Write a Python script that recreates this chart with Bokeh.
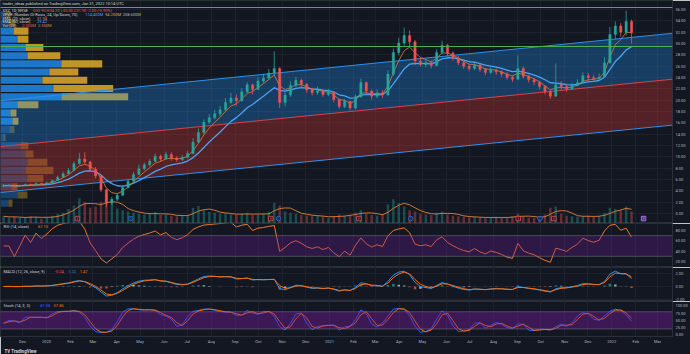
import numpy as np
import pandas as pd
from bokeh.plotting import figure
from bokeh.layouts import column
from bokeh.models import (Range1d, FixedTicker, PrintfTickFormatter, Label, Span,
                          BoxAnnotation, Title, ColumnDataSource)
from bokeh.core.properties import value
from bokeh.embed import file_html
from bokeh.resources import INLINE

# ---------------- data (weekly bars) ----------------
week_start = "2019-11-04"
first_open = 4.8
close = [4.9, 5.0, 4.8, 4.9, 5.1, 5.0, 5.3, 5.2, 5.4, 5.8,
         6.4, 7.0, 7.6, 8.8, 9.6, 9.1, 7.8, 6.6, 4.2, 1.8,
         2.5, 3.2, 4.6, 5.7, 6.9, 7.9, 8.6, 9.2, 10.1, 9.6,
         10.4, 9.8, 9.5, 9.9, 10.6, 12.6, 14.3, 16.1, 16.9, 17.6,
         18.3, 19.6, 20.4, 19.9, 21.5, 22.7, 21.9, 23.4, 23.9, 24.8,
         25.6, 19.6, 20.9, 22.6, 23.5, 22.8, 21.8, 21.3, 21.7, 21.0,
         21.4, 20.1, 18.9, 19.8, 18.6, 20.6, 23.1, 21.6, 20.7, 21.3,
         20.9, 24.6, 28.4, 30.1, 31.4, 30.3, 26.9, 26.3, 26.6, 26.1,
         28.4, 29.7, 28.3, 27.4, 26.6, 26.0, 25.6, 26.2, 25.4, 24.9,
         25.3, 25.0, 24.6, 24.0, 23.7, 25.6, 24.2, 23.6, 23.2, 22.4,
         21.5, 20.7, 22.7, 22.4, 22.0, 22.6, 23.1, 24.3, 24.0, 23.8,
         24.1, 26.6, 31.6, 33.1, 32.0, 33.9, 31.9]
high = [5.2, 5.2, 5.1, 5.1, 5.3, 5.3, 5.5, 5.4, 5.6, 6.0,
        6.7, 7.4, 8.0, 9.2, 10.7, 10.8, 9.3, 8.2, 6.6, 4.3,
        2.9, 3.6, 4.9, 6.1, 7.3, 8.6, 9.0, 9.6, 10.6, 10.4,
        10.9, 10.8, 10.1, 10.3, 11.0, 13.3, 15.0, 16.6, 17.6, 18.3,
        19.0, 20.4, 21.3, 21.0, 22.1, 23.2, 22.9, 24.0, 24.6, 25.5,
        28.6, 25.8, 21.6, 23.3, 24.1, 23.8, 23.0, 22.2, 22.4, 21.9,
        22.0, 21.6, 20.3, 20.2, 19.9, 21.0, 23.8, 23.3, 21.9, 21.9,
        21.8, 25.3, 29.1, 31.0, 32.8, 32.3, 30.6, 27.5, 27.2, 27.0,
        29.0, 30.5, 29.9, 28.6, 27.8, 26.9, 26.4, 26.7, 26.5, 25.7,
        25.8, 25.6, 25.3, 24.9, 24.4, 27.9, 25.9, 24.5, 23.9, 23.4,
        22.6, 21.8, 26.5, 23.4, 22.9, 23.1, 23.7, 24.9, 24.8, 24.5,
        24.7, 27.6, 32.9, 33.9, 33.6, 35.8, 34.2]
low = [4.7, 4.8, 4.6, 4.7, 4.8, 4.9, 5.0, 5.0, 5.1, 5.3,
       5.8, 6.3, 6.9, 7.5, 8.6, 8.7, 7.4, 6.2, 3.8, 1.1,
       1.5, 2.2, 3.1, 4.4, 5.5, 6.8, 7.6, 8.3, 9.0, 9.2,
       9.5, 9.3, 9.1, 9.2, 9.7, 10.5, 12.4, 14.0, 15.8, 16.6,
       17.2, 18.1, 19.3, 19.0, 19.7, 21.2, 21.0, 21.8, 23.0, 23.6,
       24.4, 18.6, 18.9, 20.6, 22.3, 22.2, 21.3, 20.8, 20.9, 20.6,
       20.7, 19.6, 18.5, 18.6, 18.2, 18.4, 20.4, 21.0, 20.1, 20.3,
       20.4, 20.8, 24.3, 27.9, 29.6, 29.4, 26.2, 25.9, 25.8, 25.6,
       26.0, 28.1, 27.8, 27.0, 26.2, 25.5, 25.1, 25.3, 25.0, 24.4,
       24.6, 24.5, 24.1, 23.6, 23.2, 23.6, 23.8, 23.1, 22.6, 21.9,
       21.0, 20.2, 20.6, 21.8, 21.5, 21.8, 22.4, 22.9, 23.4, 23.3,
       23.4, 23.9, 26.4, 30.8, 31.2, 31.4, 30.0]
volume = [1.2, 1.0, 1.1, 0.9, 1.0, 1.2, 1.1, 0.8, 1.0, 1.3,
          1.6, 1.8, 2.4, 3.0, 4.2, 3.5, 2.6, 2.8, 3.6, 4.8,
          3.2, 2.5, 2.2, 2.0, 1.8, 1.6, 1.5, 1.6, 1.9, 1.4,
          1.5, 1.3, 1.2, 1.3, 1.4, 2.6, 2.9, 2.2, 1.9, 1.8,
          1.6, 1.7, 1.5, 1.4, 1.6, 1.8, 1.4, 1.5, 1.6, 1.9,
          3.4, 3.0, 2.0, 1.8, 1.6, 1.4, 1.3, 1.2, 1.3, 1.1,
          0.9, 1.2, 1.5, 1.3, 1.4, 1.8, 2.2, 1.6, 1.4, 1.3,
          1.5, 3.2, 4.0, 3.4, 2.8, 2.2, 2.0, 1.6, 1.5, 1.4,
          1.8, 2.0, 1.5, 1.3, 1.2, 1.1, 1.0, 1.1, 1.0, 0.9,
          1.0, 1.1, 1.0, 0.9, 1.2, 1.6, 1.1, 1.0, 0.9, 1.1,
          1.5, 2.6, 2.8, 1.6, 1.3, 1.2, 1.1, 1.2, 1.3, 1.1,
          1.2, 1.8, 2.6, 2.4, 2.2, 2.8, 2.0]

# volume profile rows, bottom -> top (24 rows), millions
vp_up = [1.6, 3.4, 2.2, 5.4, 5.0, 5.4, 5.0, 4.0, 0.6, 1.8, 2.4, 2.0,
         3.4, 12.2, 10.6, 8.4, 9.8, 12.2, 5.4, 5.0, 3.4, 2.6, 1.6, 1.0]
vp_down = [0.8, 2.0, 1.2, 3.2, 5.6, 4.0, 1.6, 1.6, 0.4, 1.0, 1.2, 1.2,
           4.2, 13.4, 12.0, 9.0, 5.8, 8.2, 6.6, 3.6, 2.2, 3.0, 1.4, 1.0]

# regression channel end points
chan_dates = ["2019-11-02 13:00", "2022-03-20 10:00"]
chan_upper = [19.9, 31.8]
chan_mid = [11.8, 23.7]
chan_lower = [3.7, 15.6]

hline_levels = [36.35, 29.47]

earn_dates = ["2020-02-10", "2020-10-17", "2021-02-08", "2021-09-02", "2021-10-18"]
div_dates = ["2020-04-19", "2020-10-27", "2021-04-16", "2021-09-30"]
next_earn_dates = ["2022-02-11"]

tick_dates = pd.date_range("2019-12-01", periods=28, freq="MS")
tick_labels = ["Dec", "2020", "Feb", "Mar", "Apr", "May", "Jun", "Jul", "Aug", "Sep",
               "Oct", "Nov", "Dec", "2021", "Feb", "Mar", "Apr", "May", "Jun", "Jul",
               "Aug", "Sep", "Oct", "Nov", "Dec", "2022", "Feb", "Mar"]
price_ticks = [0, 2, 4, 6, 8, 10, 12, 14, 16, 18, 20, 22, 24, 26, 28, 30, 32, 34, 36]
rsi_ticks = [20, 40, 60, 80]
stoch_ticks = [0, 25, 50, 75, 100]

x_start, x_end = "2019-11-02 13:00", "2022-03-20 10:00"

# indicator settings (weekly equivalents)
EMA_FAST, EMA_SLOW = 4, 10
RSI_N = 6
MACD_F, MACD_S, MACD_SIG = 3, 6, 2
ST_N, ST_K, ST_D = 3, 2, 2
VOL_MA = 4

# ---------------- styles ----------------
BG = "#131722"
GRID = "#1d212c"
SEP = "#2a2e39"
TXT = "#b2b5be"
UP, DN = "#26a69a", "#ef5350"
FONT = "Roboto"
FS = "4px"
CW = 2.1  # approx char width of legend font (px)
DAY = 86400000.0

# ---------------- derived ----------------
dates = pd.date_range(week_start, periods=len(close), freq="7D")
xc = dates + pd.Timedelta(hours=60)
c = np.array(close, float)
o = np.concatenate([[first_open], c[:-1]])
h = np.maximum(np.array(high, float), np.maximum(o, c))
l = np.minimum(np.array(low, float), np.minimum(o, c))
vol = np.array(volume, float)
cs = pd.Series(c)


def ema(s, n):
    return pd.Series(s).ewm(span=n, adjust=False).mean().values


ema_f = ema(c, EMA_FAST)
ema_s = ema(c, EMA_SLOW)
d = np.diff(c, prepend=c[0])
au = pd.Series(np.clip(d, 0, None)).ewm(alpha=1 / RSI_N, adjust=False).mean()
ad = pd.Series(np.clip(-d, 0, None)).ewm(alpha=1 / RSI_N, adjust=False).mean()
rsi = (100 - 100 / (1 + au / ad.replace(0, np.nan))).fillna(50).values
macd = ema(c, MACD_F) - ema(c, MACD_S)
sig = ema(macd, MACD_SIG)
hist = macd - sig
ll = pd.Series(l).rolling(ST_N, min_periods=1).min()
hh = pd.Series(h).rolling(ST_N, min_periods=1).max()
kraw = 100 * (cs - ll) / (hh - ll)
stk = kraw.rolling(ST_K, min_periods=1).mean()
std = stk.rolling(ST_D, min_periods=1).mean()
volma = pd.Series(vol).rolling(VOL_MA, min_periods=1).mean().values

xr = Range1d(pd.Timestamp(x_start), pd.Timestamp(x_end))
tick_ms = [float(t.value // 10**6) for t in tick_dates]


def make_fig(height, yr, xaxis=False):
    p = figure(width=690, height=height, x_axis_type="datetime", x_range=xr, y_range=yr,
               output_backend="svg", toolbar_location=None, y_axis_location="right",
               x_axis_location="below" if xaxis else None,
               min_border_left=0, min_border_right=18, min_border_top=0, min_border_bottom=0,
               background_fill_color=BG, border_fill_color=BG,
               outline_line_color=SEP, outline_line_width=1)
    p.xgrid.ticker = FixedTicker(ticks=tick_ms)
    p.grid.grid_line_color = GRID
    p.grid.grid_line_width = 1
    ax = p.yaxis[0]
    ax.major_label_text_font = FONT
    ax.major_label_text_font_size = FS
    ax.major_label_text_color = TXT
    ax.major_tick_out = 0
    ax.major_tick_in = 0
    ax.minor_tick_out = 0
    ax.minor_tick_in = 0
    ax.major_label_standoff = 3
    ax.axis_line_color = None
    ax.formatter = PrintfTickFormatter(format="%.2f")
    return p


def legend_line(p, y, parts, x0=2):
    x = x0
    for text, color in parts:
        p.add_layout(Label(x=x, y=y, x_units="screen", y_units="data", text=text,
                           text_color=color, text_font_size=FS, text_font=FONT,
                           text_baseline="middle"))
        x += len(text) * CW + 3


def tag(p, y, text, fill):
    p.add_layout(Label(x=673, y=y, x_units="screen", y_units="data", text=text,
                       text_color="white", text_font_size=FS, text_font=FONT,
                       text_baseline="middle", background_fill_color=fill))


# ---------------- main pane ----------------
main = make_fig(223, Range1d(-1.77, 37.59))
main.yaxis.ticker = FixedTicker(ticks=price_ticks)

# volume profile
up_a = np.array(vp_up)
dn_a = np.array(vp_down)
tot = up_a + dn_a
poc = int(np.argmax(tot))
lo_i = hi_i = poc
acc = tot[poc]
while acc < 0.7 * tot.sum():
    a = tot[lo_i - 1] if lo_i > 0 else -1
    b = tot[hi_i + 1] if hi_i < len(tot) - 1 else -1
    if b >= a:
        hi_i += 1
        acc += b
    else:
        lo_i -= 1
        acc += a
in_va = np.array([lo_i <= i <= hi_i for i in range(len(tot))])
vp_lo, vp_hi = l.min(), h.max()
step = (vp_hi - vp_lo) / len(tot)
centers = vp_lo + (np.arange(len(tot)) + 0.5) * step
alpha = np.where(in_va, 0.85, 0.38)
main.extra_x_ranges = {"vp": Range1d(0, tot.max() / 0.19)}
main.extra_y_ranges = {"vol": Range1d(0, vol.max() / 0.13)}
vsrc = ColumnDataSource(dict(y=centers, up=up_a, tot=tot, a=alpha))
main.hbar(y="y", height=step * 0.86, left=0, right="up", x_range_name="vp",
          fill_color="#1e88e5", fill_alpha="a", line_color=None, source=vsrc)
main.hbar(y="y", height=step * 0.86, left="up", right="tot", x_range_name="vp",
          fill_color="#e0aa2a", fill_alpha="a", line_color=None, source=vsrc)

# regression channel
cx = [float(pd.Timestamp(t).value // 10**6) for t in chan_dates]
main.patch([cx[0], cx[1], cx[1], cx[0]],
           [chan_upper[0], chan_upper[1], chan_mid[1], chan_mid[0]],
           fill_color="#2196f3", fill_alpha=0.31, line_color=None)
main.patch([cx[0], cx[1], cx[1], cx[0]],
           [chan_mid[0], chan_mid[1], chan_lower[1], chan_lower[0]],
           fill_color="#e53935", fill_alpha=0.31, line_color=None)
main.line(cx, chan_upper, line_color="#2f8fe8", line_width=1)
main.line(cx, chan_mid, line_color="#d64545", line_width=1)
main.line(cx, chan_lower, line_color="#2f8fe8", line_width=1)

# volume
cols = [UP if cc >= oo else DN for oo, cc in zip(o, c)]
src = ColumnDataSource(dict(x=xc, o=o, h=h, l=l, c=c, top=np.maximum(o, c),
                            bot=np.minimum(o, c), col=cols, vol=vol, vma=volma))
main.vbar(x="x", width=3.2 * DAY, top="vol", bottom=0, y_range_name="vol",
          fill_color="col", fill_alpha=0.38, line_color=None, source=src)
main.line(x="x", y="vma", y_range_name="vol", line_color="#e0823d",
          line_width=0.9, source=src)

# EMAs
main.line(xc, ema_s, line_color="#4aa3f0", line_width=1.3)
main.line(xc, ema_f, line_color="#d9823b", line_width=0.8)

# candles
main.segment(x0="x", y0="l", x1="x", y1="h", line_color="col", line_width=0.8, source=src)
main.vbar(x="x", width=3.0 * DAY, top="top", bottom="bot", fill_color="col",
          line_color="col", line_width=0.4, source=src)


# event markers
def marks(dlist, marker, lc, fc, letter):
    xs = [pd.Timestamp(t) for t in dlist]
    ys = [-0.9] * len(xs)
    main.scatter(xs, ys, marker=marker, size=4.5, line_color=lc, fill_color=fc, line_width=0.8)
    main.text(xs, ys, text=[letter] * len(xs), text_font=value(FONT), text_font_size="3px",
              text_color=lc, text_align="center", text_baseline="middle")


marks(earn_dates, "square", "#ef5350", BG, "E")
marks(div_dates, "circle", "#2979ff", BG, "D")
marks(next_earn_dates, "square", "#b388ff", "#4a2f7a", "E")

for lv in hline_levels:
    main.add_layout(Span(location=lv, dimension="width", line_color="#4caf50", line_width=1))
    tag(main, lv, f"{lv:.2f}", "#4caf50")
tag(main, c[-1], f"{c[-1]:.2f}", "#26a69a")

# legends
chg = c[-1] - c[-2]
legend_line(main, 37.06, [("trader_ideas published on TradingView.com, Jan 31, 2022 10:14 UTC", "#d1d4dc")])
legend_line(main, 35.9, [("XYZ, 1D, NYSE", "#d1d4dc"),
                         (f"O{o[-1]:.2f} H{h[-1]:.2f} L{l[-1]:.2f} C{c[-1]:.2f} {chg:+.2f} ({chg / c[-2] * 100:+.2f}%)", DN)])
legend_line(main, 35.2, [("VPVR (Number Of Rows, 24, Up/Down, 70)", "#d1d4dc"),
                         (f"{up_a.sum():.3f}M", "#42a5f5"), (f"{dn_a.sum():.3f}M", "#e0aa2a"),
                         (f"{tot.sum():.3f}M", "#b2b5be")])
legend_line(main, 34.5, [("EMA (20, close)", "#d1d4dc"), (f"{ema_f[-1]:.2f}", "#d9823b")])
legend_line(main, 33.8, [("EMA (50, close)", "#d1d4dc"), (f"{ema_s[-1]:.2f}", "#4aa3f0")])
legend_line(main, 33.1, [("Vol (20)", "#d1d4dc"), (f"{vol[-1]:.3f}M", DN), (f"{volma[-1]:.3f}M", "#e0823d")])

# ---------------- RSI pane ----------------
rp = make_fig(44, Range1d(8.4, 93.5))
rp.yaxis.ticker = FixedTicker(ticks=rsi_ticks)
rp.ygrid.grid_line_color = None
rp.add_layout(BoxAnnotation(bottom=30, top=70, fill_color="#6a1b9a", fill_alpha=0.3, line_color=None))
for lv in (70, 30):
    rp.add_layout(Span(location=lv, dimension="width", line_color="#787b86",
                       line_dash="1 1", line_width=1))
rp.line(xc, rsi, line_color="#f0772e", line_width=1)
legend_line(rp, 87.7, [("RSI (14, close)", "#d1d4dc"), (f"{rsi[-1]:.2f}", "#f0772e")], x0=3)

# ---------------- MACD pane ----------------
mx = max(np.abs(macd).max(), np.abs(sig).max(), np.abs(hist).max())
raw = mx / 1.1
ex = 10 ** np.floor(np.log10(raw))
u = next(m * ex for m in (1, 2, 2.5, 5, 10) if m * ex >= raw * 0.85)
pos = max(macd.max(), sig.max(), hist.max())
neg = -min(macd.min(), sig.min(), hist.min())
m_lo, m_hi = -max(1.15 * u, neg * 1.05), max(1.46 * u, pos * 1.05)
mp = make_fig(34, Range1d(m_lo, m_hi))
mp.yaxis.ticker = FixedTicker(ticks=[-u, 0, u])
prev = np.concatenate([[0], hist[:-1]])
hcol = [("#26a69a" if hv >= pv else "#b2dfdb") if hv >= 0 else ("#ff5252" if hv < pv else "#ffcdd2")
        for hv, pv in zip(hist, prev)]
mp.vbar(x=xc, width=3.2 * DAY, top=hist, bottom=0, fill_color=hcol, fill_alpha=0.75, line_color=None)
mp.line(xc, macd, line_color="#2196f3", line_width=1)
mp.line(xc, sig, line_color="#ff6d00", line_width=1)
ly = m_hi - 4 / 34 * (m_hi - m_lo)
legend_line(mp, ly, [("MACD (12, 26, close, 9)", "#d1d4dc"),
                     (f"{hist[-1]:.2f}", DN if hist[-1] < 0 else UP),
                     (f"{macd[-1]:.2f}", "#2196f3"), (f"{sig[-1]:.2f}", "#ff6d00")], x0=3)

# ---------------- Stoch pane ----------------
sp = make_fig(53, Range1d(-6.25, 115.6), xaxis=True)
sp.yaxis.ticker = FixedTicker(ticks=stoch_ticks)
sp.ygrid.grid_line_color = None
sp.add_layout(BoxAnnotation(bottom=20, top=80, fill_color="#7b1fa2", fill_alpha=0.4, line_color=None))
for lv in (80, 20):
    sp.add_layout(Span(location=lv, dimension="width", line_color="#787b86",
                       line_dash="1 1", line_width=1))
sp.line(xc, stk.values, line_color="#2962ff", line_width=1)
sp.line(xc, std.values, line_color="#ff6d00", line_width=1)
legend_line(sp, 100, [("Stoch (14, 3, 3)", "#d1d4dc"), (f"{stk.values[-1]:.2f}", "#2962ff"),
                      (f"{std.values[-1]:.2f}", "#ff6d00")], x0=3)
xa = sp.xaxis[0]
xa.ticker = FixedTicker(ticks=tick_ms)
xa.major_label_overrides = {t: s for t, s in zip(tick_ms, tick_labels)}
xa.major_label_text_font = FONT
xa.major_label_text_font_size = FS
xa.major_label_text_color = TXT
xa.major_tick_out = 0
xa.major_tick_in = 0
xa.minor_tick_out = 0
xa.minor_tick_in = 0
xa.major_label_standoff = 2
xa.axis_line_color = SEP
sp.add_layout(Title(text="TV TradingView", align="left", text_font_size="4.5px",
                    text_font=FONT, text_color="#d1d4dc", standoff=1, offset=4,
                    background_fill_color=BG), "below")

layout = column(main, rp, mp, sp, spacing=0)
open("out.html", "w").write(file_html(layout, INLINE))
